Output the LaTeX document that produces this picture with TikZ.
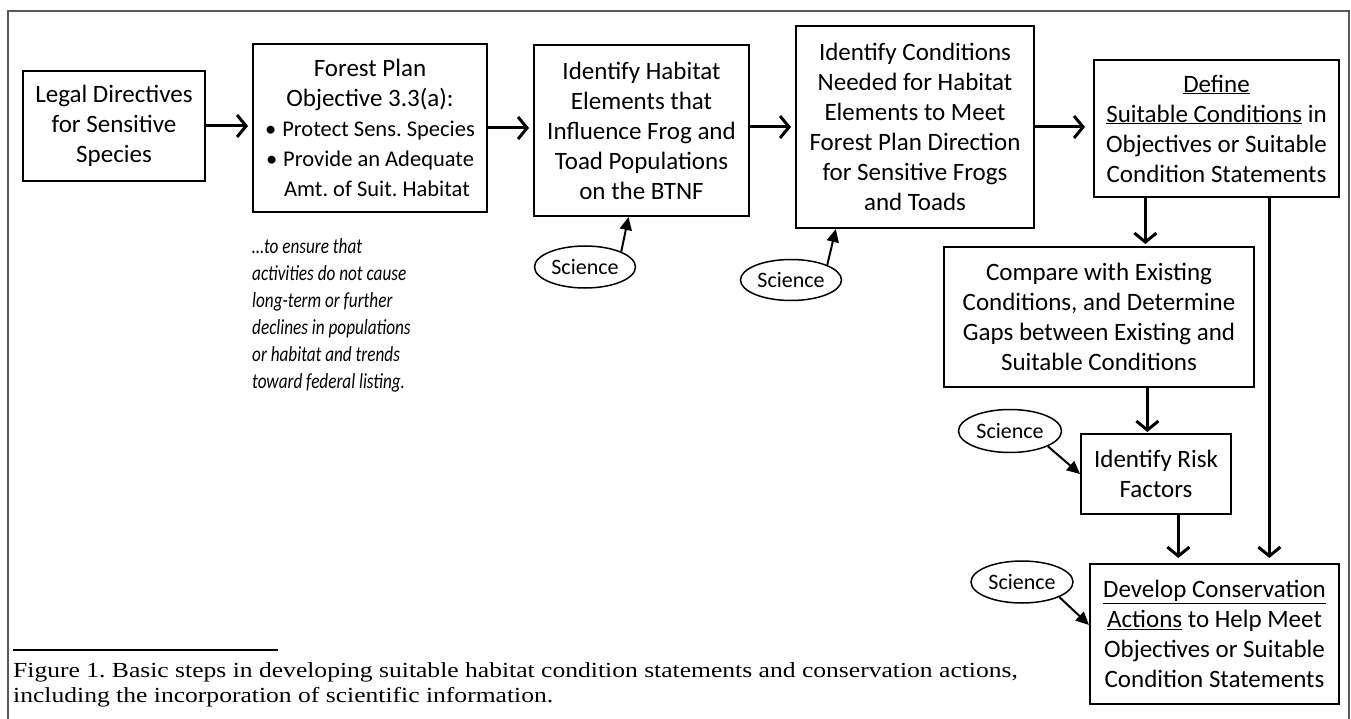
\documentclass[tikz,border=0pt]{standalone}
\usepackage{fontspec}
\setmainfont{Carlito}
\newfontfamily\capfont[FakeStretch=1.19]{Liberation Serif}
\newfontfamily\notefont[FakeStretch=0.8]{Carlito}
\usetikzlibrary{arrows.meta,shapes.geometric,calc}
\frenchspacing
\tikzset{
  stepbox/.style={draw, line width=2pt, align=center, inner sep=0pt,
    font=\frenchspacing\fontsize{25}{30}\selectfont},
  sci/.style={draw, ellipse, line width=1.5pt, inner sep=0pt,
    font=\fontsize{22}{26}\selectfont},
  bigarrow/.style={line width=3pt, -{Straight Barb[length=9pt,width=22pt]}},
  sciarrow/.style={line width=2pt, -{Triangle[length=13pt,width=12pt]}},
}
\begin{document}
\begin{tikzpicture}[x=1pt,y=-1pt]
\useasboundingbox (0,0) rectangle (1351,719);
% outer frame
\draw[line width=1.5pt, black!65] (8,725) -- (8,11) -- (1349,11) -- (1349,725);

% boxes
\node[stepbox, minimum width=182, minimum height=110] (legal) at (114,126)
  {Legal Directives\\for Sensitive\\Species};
\node[stepbox, minimum width=234, minimum height=168] (forest) at (370,128)
  {Forest Plan\\Objective 3.3(a):\\
   \fontsize{22.5}{29}\selectfont\textbullet\hspace{6pt}Protect Sens. Species\\
   \fontsize{22.5}{29}\selectfont\textbullet\hspace{6pt}Provide an Adequate\\
   \fontsize{22.5}{29}\selectfont\hspace{14pt}Amt. of Suit. Habitat};
\node[stepbox, minimum width=215, minimum height=171] (habitat) at (641.5,130.5)
  {Identify Habitat\\Elements that\\Influence Frog and\\Toad Populations\\on the BTNF};
\node[stepbox, minimum width=238, minimum height=202] (conds) at (915,127)
  {Identify Conditions\\Needed for Habitat\\Elements to Meet\\Forest Plan Direction\\for Sensitive Frogs\\and Toads};
\node[stepbox, minimum width=245, minimum height=137] (define) at (1216.5,128.5)
  {\underline{Define}\\\underline{Suitable Conditions} in\\Objectives or Suitable\\Condition Statements};
\node[stepbox, minimum width=310, minimum height=140] (compare) at (1099,317)
  {Compare with Existing\\Conditions, and Determine\\Gaps between Existing and\\Suitable Conditions};
\node[stepbox, minimum width=150, minimum height=80] (risk) at (1156,474)
  {Identify Risk\\Factors};
\node[stepbox, minimum width=249, minimum height=140] (develop) at (1214.5,634)
  {\underline{Develop Conservation}\\\underline{Actions} to Help Meet\\Objectives or Suitable\\Condition Statements};

% science ellipses
\node[sci, minimum width=101, minimum height=42] (s1) at (585,267) {Science};
\node[sci, minimum width=101, minimum height=41] (s2) at (791,280) {Science};
\node[sci, minimum width=103, minimum height=43] (s3) at (1010,431) {Science};
\node[sci, minimum width=102, minimum height=42] (s4) at (1022,582) {Science};

% note
\node[anchor=west, align=left, inner sep=0pt,
  font=\notefont\itshape\fontsize{21.5}{27}\selectfont] (note) at (252,315.5)
  {\ldots to ensure that\\activities do not cause\\long-term or further\\declines in populations\\or habitat and trends\\toward federal listing.};

% main arrows
\draw[bigarrow, shorten >=4pt] (legal.east) -- (legal.east -| forest.west);
\draw[bigarrow, shorten >=4pt] (forest.east) -- (forest.east -| habitat.west);
\draw[bigarrow, shorten >=4pt] (habitat.east |- conds.west) -- (conds.west);
\draw[bigarrow, shorten >=8pt] (conds.east) -- (conds.east -| define.west);
\coordinate (d1) at ($(define.south west)!0.212!(define.south east)$);
\draw[bigarrow, shorten >=2pt] (d1) -- (d1 |- compare.north);
\coordinate (d2) at ($(define.south west)!0.714!(define.south east)$);
\draw[bigarrow, shorten >=5pt] (d2) -- (d2 |- develop.north);
\coordinate (c1) at ($(compare.south west)!0.655!(compare.south east)$);
\draw[bigarrow, shorten >=1pt] (c1) -- (c1 |- risk.north);
\coordinate (r1) at ($(risk.south west)!0.647!(risk.south east)$);
\draw[bigarrow, shorten >=5pt] (r1) -- (r1 |- develop.north);

% science arrows
\draw[sciarrow] (s1.north east) -- ($(habitat.south west)!0.44!(habitat.south east)$);
\draw[sciarrow] (s2.north east) -- ($(conds.south west)!0.17!(conds.south east)$);
\draw[sciarrow] (s3.-22) -- (risk.west);
\draw[sciarrow] (s4.-22) -- ($(develop.north west)!0.436!(develop.south west)$);

% caption
\coordinate (rulestart) at (13,650);
\coordinate (ruleend) at (278,650);
\draw[line width=1.5pt] (rulestart) -- (ruleend);
\node[anchor=west, align=left, inner sep=0pt,
  font=\capfont\fontsize{21.5}{25}\selectfont] (caption) at (13,684.5)
  {Figure 1. Basic steps in developing suitable habitat condition statements and conservation actions,\\including the incorporation of scientific information.};
\end{tikzpicture}
\end{document}
